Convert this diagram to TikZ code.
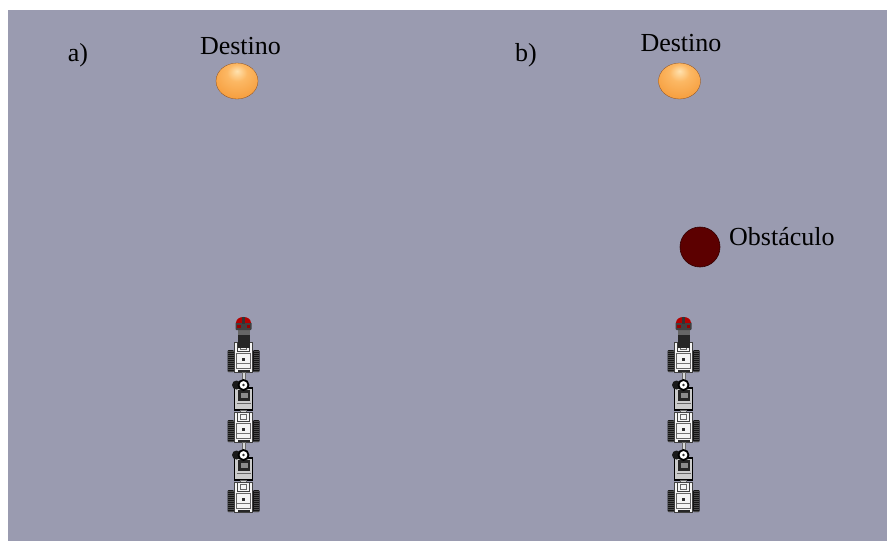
\documentclass[tikz,border=0pt]{standalone}
\usepackage{fontspec}
\setmainfont{Liberation Serif}
\definecolor{bg}{RGB}{154,155,176}
\definecolor{obst}{RGB}{92,0,0}
\definecolor{obstedge}{RGB}{50,0,0}
\definecolor{ballhi}{RGB}{255,226,175}
\definecolor{ballmid}{RGB}{252,184,100}
\definecolor{ballbody}{RGB}{246,158,62}
\definecolor{balledge}{RGB}{214,122,40}
\definecolor{ballrim}{RGB}{170,96,40}
\pgfdeclareradialshading{destball}{\pgfpoint{0bp}{14bp}}{%
  color(0bp)=(ballhi);
  color(12bp)=(ballmid);
  color(32bp)=(ballbody);
  color(52bp)=(balledge);
  color(64bp)=(ballrim)}
\begin{document}
\begin{tikzpicture}[x=1pt,y=-1pt,
  txt/.style={font=\fontsize{26}{30}\selectfont, inner sep=0pt},
  goal/.style={shading=destball, draw=ballrim!80!black, line width=0.3pt},
  track/.style={fill=black!92, rounded corners=1pt},
  tread/.style={draw=black!70, line width=0.4pt},
  shell/.style={fill=white!96!black, draw=black!75, line width=0.6pt},
  vehicle/.pic={
    % tracks
    \fill[track] (-16,8) rectangle (-9.5,30);
    \fill[track] (9.5,8) rectangle (16,30);
    \foreach \k in {0,...,10}{
      \draw[tread] (-15.5,9+2*\k) -- (-10,9+2*\k);
      \draw[tread] (10,9+2*\k) -- (15.5,9+2*\k);
    }
    % chassis
    \filldraw[shell] (-9,0) rectangle (9,30);
    \draw[black!75, line width=0.6pt] (-6,0) rectangle (6,9);
    \draw[black!60, line width=0.4pt] (-3,2) rectangle (3,7);
    \draw[black!60, line width=0.5pt] (-7,11) rectangle (7,26);
    \fill[black!80] (-1.2,16) rectangle (1.2,19);
    \draw[black!55, line width=0.4pt] (-7,21) -- (7,21);
    \fill[black!85] (-6,27.5) rectangle (6,30);
  },
  joint/.pic={
    % connecting rod
    \filldraw[fill=white!85!black, draw=black!60, line width=0.4pt] (-1.5,0) rectangle (1.5,10);
    % frame
    \filldraw[fill=white!80!black, draw=black, line width=1.4pt] (-9,16) rectangle (9,38);
    \fill[black!85] (-6,18) rectangle (6,29);
    \fill[black!45] (-3,21) rectangle (4,26);
    \draw[black!60, line width=0.5pt] (-7,31) -- (7,31);
    % motor and rotary joint
    \fill[black!90] (-7,13) circle (4.5);
    \filldraw[fill=white, draw=black, line width=1.8pt] (0,13) circle (5);
    \fill[black!80] (0,13) circle (1.4);
  },
  headunit/.pic={
    \fill[black!85] (-6,16) rectangle (6,34);
    \fill[black!60] (-6,16) rectangle (6,21);
    \fill[black!75, rounded corners=1pt] (-8,8) rectangle (8,16);
    \fill[red!70!black] (-7.5,9) .. controls (-7.5,0.5) and (7.5,0.5) .. (7.5,9) -- cycle;
    \fill[black!80] (-1.5,3) rectangle (1.5,10);
    \fill[red!60!black] (-6.5,11) rectangle (-3,14);
    \fill[red!60!black] (3,11) rectangle (6.5,14);
  },
  robotchain/.pic={
    \pic at (0,28) {vehicle};
    \pic at (0,0) {headunit};
    \pic at (0,58) {joint};
    \filldraw[fill=white!85!black, draw=black!60, line width=0.4pt] (-3,96) rectangle (3,98);
    \pic at (0,98) {vehicle};
    \pic at (0,128) {joint};
    \filldraw[fill=white!85!black, draw=black!60, line width=0.4pt] (-3,166) rectangle (3,168);
    \pic at (0,168) {vehicle};
  }]
\useasboundingbox (0,0) rectangle (887,541);
\fill[bg] (8,10) rectangle (887,541);

% panel a
\node[txt, anchor=base] (labA) at (78,61) {a)};
\node[txt, anchor=base] (goalTextA) at (240.5,54) {Destino};
\path[goal] (237,81) ellipse [x radius=21, y radius=18];
\node[inner sep=0pt, minimum size=36pt] (goalA) at (237,81) {};
\pic (robotA) at (243.5,314) {robotchain};

% panel b
\node[txt, anchor=base] (labB) at (526,61) {b)};
\node[txt, anchor=base] (goalTextB) at (681,51) {Destino};
\path[goal] (679.5,81) ellipse [x radius=21, y radius=18];
\node[inner sep=0pt, minimum size=36pt] (goalB) at (679.5,81) {};
\node[circle, fill=obst, draw=obstedge, line width=0.6pt, minimum size=40pt, inner sep=0pt] (obstB) at (700,247) {};
\node[txt, anchor=base west] (obstText) at (729,245) {Obstáculo};
\pic (robotB) at (683.5,314) {robotchain};
\end{tikzpicture}
\end{document}
